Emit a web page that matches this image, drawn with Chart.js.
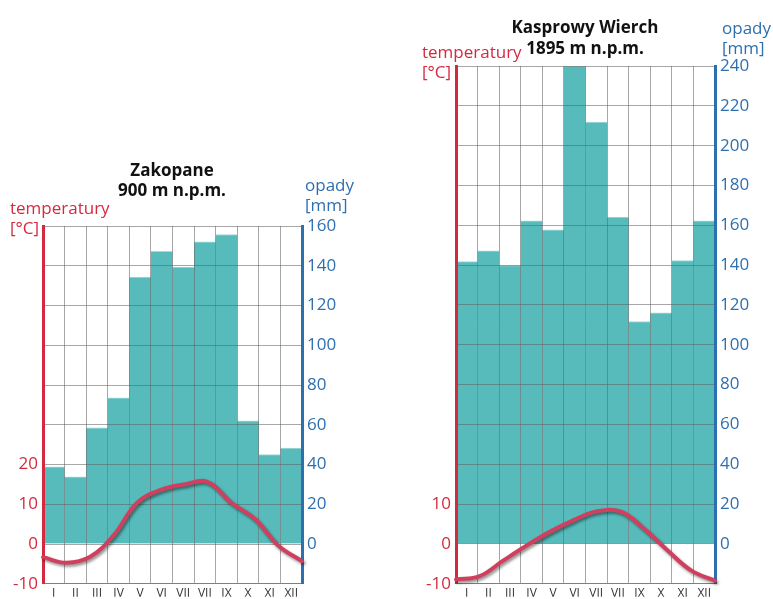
<!DOCTYPE html>
<html>
<head>
<meta charset="utf-8">
<script src="https://cdn.jsdelivr.net/npm/chart.js@4.4.1/dist/chart.umd.min.js"></script>
<style>
  html, body { margin: 0; padding: 0; background: #fff; width: 773px; height: 599px; overflow: hidden; }
  body { position: relative; font-family: "Open Sans", "Noto Sans", sans-serif; }
  .c { position: absolute; top: 0; }
  .t { position: absolute; white-space: nowrap; font-size: 17px; line-height: 20px; }
  .title { font-weight: bold; color: #111; text-align: center; transform: translateX(-50%); font-size: 17px; }
  .red { color: #d42a40; }
  .blue { color: #2e6fb0; }
</style>
</head>
<body>
<canvas id="zak" class="c" style="left:0px" width="386" height="599"></canvas>
<canvas id="kas" class="c" style="left:386px" width="387" height="599"></canvas>

<div class="t title" style="left:172px; top:160px">Zakopane</div>
<div class="t title" style="left:172px; top:180px">900 m n.p.m.</div>
<div class="t red" style="left:10px; top:198px">temperatury</div>
<div class="t red" style="left:10px; top:218px">[°C]</div>
<div class="t blue" style="left:305px; top:175px">opady</div>
<div class="t blue" style="left:305px; top:195px">[mm]</div>

<div class="t title" style="left:585px; top:17px">Kasprowy Wierch</div>
<div class="t title" style="left:585px; top:38px">1895 m n.p.m.</div>
<div class="t red" style="left:422px; top:42px">temperatury</div>
<div class="t red" style="left:422px; top:62px">[°C]</div>
<div class="t blue" style="left:722px; top:18px">opady</div>
<div class="t blue" style="left:722px; top:38px">[mm]</div>

<script>
// ---- data ----
const months = ['I','II','III','IV','V','VI','VII','VII','IX','X','XI','XII'];

const zakopanePrecip = [38.8, 33.8, 58.5, 73.5, 134.3, 147.2, 139.3, 152, 155.7, 62, 45, 48.3];
const zakopaneTemp   = [-3.3, -4.7, -3.2, 2.2, 10.4, 13.6, 15.0, 15.6, 10.4, 6.3, -0.4, -4.3];

const kasprowyPrecip = [141.8, 147.2, 139.8, 162.3, 157.7, 240, 211.8, 164.2, 111.7, 116, 142.3, 162.3];
const kasprowyTemp   = [-8.9, -8.1, -4.2, -0.4, 3.1, 6.0, 8.2, 8.1, 3.75, -1.7, -6.7, -9.2];

const zakopanePrecipMax = 160;
const kasprowyPrecipMax = 240;
const zakopaneTempLabelMax = 20;
const kasprowyTempLabelMax = 10;

// ---- styles ----
const RED = '#d42a40';
const BLUE = '#2e6fb0';
const TEAL = '#57bbbc';
const GRID = 'rgba(95,95,95,0.55)';
const LINE = '#d0405e';
const FONT = '"Open Sans", "Noto Sans", sans-serif';

const lineOnTop = {
  id: 'lineOnTop',
  beforeDatasetDraw(chart, args) {
    if (args.meta.type === 'line') return false;
  },
  afterDraw(chart) {
    const ctx = chart.ctx;
    chart.data.datasets.forEach((ds, i) => {
      const meta = chart.getDatasetMeta(i);
      if (meta.type !== 'line') return;
      ctx.save();
      ctx.shadowColor = 'rgba(0,0,0,0.45)';
      ctx.shadowBlur = 3;
      ctx.shadowOffsetX = 1.5;
      ctx.shadowOffsetY = 2;
      meta.controller.draw();
      ctx.restore();
    });
  }
};

function makeChart(id, precip, temp, pMax, tLabelMax, leftW, rightW, top) {
  new Chart(document.getElementById(id), {
    data: {
      labels: months,
      datasets: [
        {
          type: 'bar', data: precip, yAxisID: 'yP', xAxisID: 'x',
          backgroundColor: TEAL, borderColor: '#a6dada',
          borderWidth: { top: 1, left: 0, right: 0, bottom: 0 }, borderSkipped: 'start',
          grouped: false, barPercentage: 1.0, categoryPercentage: 1.0, order: 2
        },
        {
          type: 'line', data: temp, yAxisID: 'yT', xAxisID: 'x2',
          borderColor: LINE, borderWidth: 4, pointRadius: 0, tension: 0.4,
          fill: false, order: 1, borderCapStyle: 'round'
        }
      ]
    },
    options: {
      responsive: false,
      animation: false,
      layout: { padding: { top: top, left: 0, right: 0, bottom: 0 } },
      plugins: { legend: { display: false }, tooltip: { enabled: false }, title: { display: false } },
      scales: {
        x: {
          type: 'category', position: 'bottom', offset: true,
          grid: { display: true, color: GRID, lineWidth: 1, offset: true, drawTicks: false, z: 1 },
          border: { display: true, color: GRID, width: 1, z: 1 },
          ticks: { color: '#333', font: { family: FONT, size: 12 }, padding: 3, maxRotation: 0, autoSkip: false },
          afterFit(s) { s.height = 13; }
        },
        x2: {
          type: 'category', display: false, offset: false
        },
        yT: {
          type: 'linear', position: 'left', min: -10, max: pMax / 2,
          grid: { display: false, drawTicks: false },
          border: { display: true, color: RED, width: 3, z: 2 },
          ticks: {
            stepSize: 10, color: RED, padding: 5, font: { family: FONT, size: 17 },
            callback: v => (v <= tLabelMax ? String(v) : '')
          },
          afterFit(s) { s.width = leftW; }
        },
        yP: {
          type: 'linear', position: 'right', min: -20, max: pMax,
          grid: { display: true, color: GRID, lineWidth: 1, drawTicks: false, z: 1 },
          border: { display: true, color: BLUE, width: 3, z: 2 },
          ticks: {
            stepSize: 20, color: BLUE, padding: 5, font: { family: FONT, size: 17 },
            callback: v => (v < 0 ? '' : String(v))
          },
          afterFit(s) { s.width = rightW; }
        }
      }
    },
    plugins: [lineOnTop]
  });
}

makeChart('zak', zakopanePrecip, zakopaneTemp, zakopanePrecipMax, zakopaneTempLabelMax, 43, 84, 226);
makeChart('kas', kasprowyPrecip, kasprowyTemp, kasprowyPrecipMax, kasprowyTempLabelMax, 70, 58, 66);
</script>
</body>
</html>
